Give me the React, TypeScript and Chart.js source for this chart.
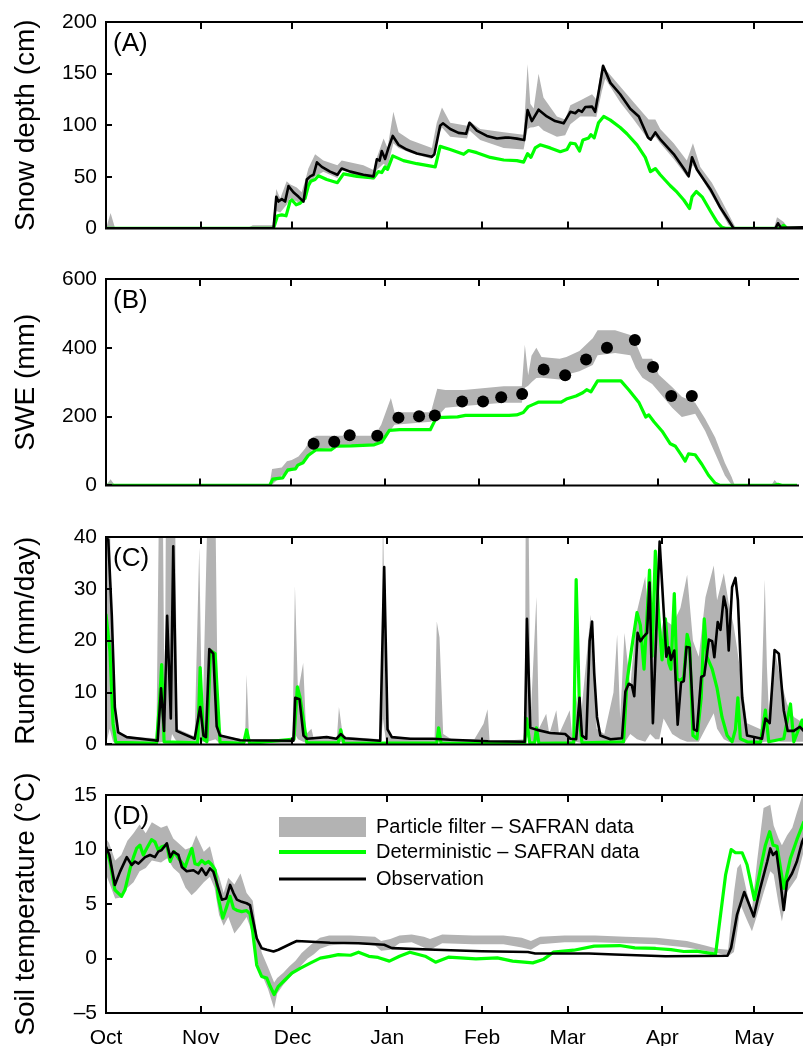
import React, { useEffect, useRef } from "react";
import { Chart, registerables } from "chart.js";

Chart.register(...registerables);

const FONT = "'Liberation Sans', Arial, Helvetica, sans-serif";
const GRAY = "#b3b3b3";
const GREEN = "#00ff00";
const BLACK = "#000000";

// ---- x axis (days since 1 Oct) ----
const monthDays = [0, 31, 61, 92, 123, 151, 182, 212];
const monthLabels = ["Oct", "Nov", "Dec", "Jan", "Feb", "Mar", "Apr", "May"];
const X_MAX = 228;

// ---- y ticks ----
const snowTicks = [0, 50, 100, 150, 200];
const sweTicks = [0, 200, 400, 600];
const runoffTicks = [0, 10, 20, 30, 40];
const soilTicks = [-5, 0, 5, 10, 15];

type Pair = [number, number];
type Band = [number, number, number];

// ---- (A) Snow depth (cm) ----
const snowObs: Pair[] = [[0,0],[54.8,0],[55.7,30.6],[56.4,26],[57.5,28.4],[58.6,26],[59.7,41],[61.3,35],[63,30.6],[64.6,26],[65.7,47.4],[66.8,50.4],[67.9,52],[69,64],[70.6,59.6],[73.3,55],[75.7,52],[77.1,58],[79.9,55],[84.2,52],[87.5,50.4],[88.6,67],[89.5,65.7],[90.2,75],[91.3,67.3],[92.4,78],[93.8,89.6],[95.7,81],[98.4,76.4],[101.7,72.5],[106.6,69.4],[107.4,71.8],[109.3,99.4],[110.2,101.8],[112.6,96.3],[115.3,92.6],[117.8,91.7],[118.9,102.4],[121.3,94.8],[124.6,89.6],[127.9,87.1],[130.6,88],[131.7,88],[134.4,87],[136.8,85.6],[137.9,114.7],[139.3,104],[141.5,115],[144.2,108.5],[146.9,104],[149.7,101.8],[151.9,113],[153.5,111.6],[154.6,114.7],[155.7,113],[156.8,117.7],[159,118],[160,113],[161.2,133],[162.6,157.5],[165,141],[168.2,130],[171.5,116],[174.3,108.5],[177.3,88],[178.2,86],[179.7,93],[181.4,86],[185.7,72],[189,58],[190.6,50.5],[191.7,69],[193.3,57],[197.7,38],[201,20],[203.7,7.6],[205.3,0],[219,0],[219.8,5],[220.8,0.5],[228,1]];
const snowDet: Pair[] = [[0,0],[54.8,0],[56.1,12.2],[57.5,13.1],[58.9,12.2],[60.2,26],[60.8,27.5],[62.2,22.9],[63.5,24.4],[65.1,29],[66.2,41.3],[67,45.8],[68.4,47.4],[69.5,51],[72.2,47.4],[75.7,44.3],[77.7,52.9],[82.1,50.4],[87.5,48.9],[89.1,55],[90.2,54.1],[91.3,59.6],[92.1,57.2],[93.8,70.3],[97.3,65.7],[101.7,62.7],[107.7,59.6],[109.3,79.5],[112.6,76.4],[117,71.8],[118.6,75.5],[121.3,73.4],[125.7,68.8],[130.1,66.3],[134.4,65.7],[136.6,64.2],[137.9,72.5],[139,68.8],[140.4,78],[142,81],[145.3,78],[148.6,74.3],[150.8,76.4],[151.9,82.6],[153.5,82],[154.9,75],[156,85.6],[157.9,87.7],[158.6,90.8],[159.7,87.7],[161.1,102.4],[162.8,108.5],[165,104.9],[168.2,97.8],[170.4,91.7],[173.7,81],[176.4,68.8],[178.1,55],[179.7,58],[181.3,52],[184.6,41.3],[186.8,35.1],[189,27.5],[190.9,19.3],[191.7,30.6],[193.1,35.8],[195,30.6],[197.7,16.8],[199.9,6.1],[201.5,1],[202.6,0],[220.5,0],[221.7,3],[222.8,0],[228,0]];
const snowBand: Band[] = [[0,0,0],[1.5,0,15],[3,0,0],[46,0,0],[48,0,3],[54.5,0,3],[55.7,16.8,38.2],[57,15.3,29],[59.1,23,45.8],[60.2,29,42.8],[62.4,26,39.7],[64,23.5,35],[65.1,32,45.8],[66.2,41.3,58],[68.4,50.4,71.8],[71.1,55,65.7],[75.7,48.9,61.1],[77.1,56.5,65.7],[84.2,48.9,61.1],[87.5,47.4,56.5],[88.6,56.5,68.8],[90.8,62.7,87.1],[92.1,59.6,78],[94,82.5,113.1],[95.7,78,93.2],[99.5,73.4,85.6],[106.6,67.3,78],[108.2,87.1,102.4],[109.9,97.8,117.1],[112.6,88.7,102.4],[118.1,87.1,99.4],[118.9,94.8,103.9],[122.4,85.6,96.3],[130.1,78,93.2],[136.6,76.4,90.8],[137.9,96.3,159],[138.8,97.8,120.8],[139.9,98,116.2],[141.5,99.4,149.8],[143.1,94.8,126.9],[147.5,88.7,108.5],[150.2,90.2,105.5],[151.9,101,119.3],[155.1,108.5,123.9],[159,108.5,130],[160.4,108,125],[162.2,133,157.5],[163.3,145,154.4],[168.2,122.3,137.6],[172.6,105.5,122.3],[177.5,85.6,105.5],[179.7,88.7,105.5],[181.3,82.5,96.3],[185.7,67.3,82.5],[190,50.4,65.7],[192,61.1,82.5],[194.4,50.4,59.6],[198.2,32,44.3],[201,16.8,29],[203.7,3,13.8],[205.9,0,1],[207,0,0],[218.5,0,0],[219.5,0,10.7],[221.7,0,6.1],[222.8,0,1.5],[228,0,1]];

// ---- (B) SWE (mm) ----
const sweObsDays = [68.5,75.3,80.4,89.5,96.5,103.3,108.5,117.5,124.4,130.4,137.3,144.4,151.5,158.4,165.3,174.5,180.5,186.5,193.3];
const sweObsValues = [121,127,146,144,197,201,203,244,244,256,266,337,320,366,400,423,344,260,260];
const sweDet: Pair[] = [[0,0],[54,0],[55,18],[58.3,22],[60,45],[62.5,48],[63.3,59],[65,66],[66.7,87],[69.2,103],[74.2,103],[75.9,114],[81,115],[88.5,118],[91,126],[93.5,160],[96.9,162],[107,162],[109,197],[116,199],[118.6,203.5],[133,203.5],[135.5,205],[137.7,212],[139.3,229],[141,235.5],[142.6,241.8],[150.2,241.8],[151.9,251],[155.1,260],[157.3,269.3],[158.6,278.4],[160,272],[162.2,304],[169.9,304],[172.6,276.7],[175.9,240],[178.1,198.7],[179.1,205],[180.8,185],[183.5,157.6],[186.2,121],[187.9,113.7],[189.8,89],[191.1,70.6],[192.2,91.7],[194.4,89],[196.6,61.5],[198.8,29.4],[201,6.5],[202.6,0],[220.5,0],[221.7,3],[223,0],[228,0]];
const sweBand: Band[] = [[0,0,0],[1.5,0,18],[3,0,0],[46,0,0],[48,0,4],[54,0,4],[54.8,2,47.6],[58,29,52],[59.7,38,70],[61.3,42,74],[63.5,57,84],[65.7,75,107],[67.9,102,139],[69.5,104,144],[75.5,111,144],[88.6,120,144],[90.8,130,176],[94,162,254],[95.2,176,213],[107.2,185,213],[109.3,199,281],[112,226,277],[118.1,231,277],[131.2,240,288],[137.2,240,288],[138.2,284,409],[139.3,290,320],[140.4,300,377],[142,312,400],[143.7,313,373],[149.7,308,368],[151.9,322,373],[156.2,332,391],[160.6,350,428],[162.2,378,451],[168,385,451],[173,378,437],[174.8,341,414],[177,313,368],[180.2,295,368],[182.4,272,322],[186.8,226,286],[190,199,258],[194.4,208,240],[197.7,158,194],[201,93,139],[204.2,29,66],[206.4,2,25],[207.5,0,0],[219.5,0,0],[220.6,0,16],[222,0,2],[228,0,0]];

// ---- (C) Runoff (mm/day) ----
const runoffObs: Pair[] = [[0,40],[0.75,39.4],[1.9,24.8],[2.9,7.2],[4,2.3],[6.8,1.4],[15.5,0.8],[16.9,0.7],[18,10.8],[19,2.6],[20,24.8],[21.2,5],[22,38.2],[23.1,2.6],[29,1.1],[30.8,7.2],[31.9,1.7],[32.7,1.4],[33.8,18.4],[35.1,17.5],[36.2,3.5],[37.3,1.7],[43.9,0.8],[61.3,0.7],[61.9,9],[63.3,8.7],[64.6,1.7],[65.7,1.1],[72.2,1.4],[75.4,1.1],[76.8,2],[78.3,1.2],[89.7,0.7],[91,34.2],[92.1,2.9],[93.5,1.4],[99.5,1.1],[107,1.1],[112.5,0.9],[125,0.6],[137,0.5],[137.7,24.2],[138.8,3.2],[141,2.8],[145.3,2.2],[150.2,2],[151.9,1.1],[153.8,1],[154.9,9],[155.7,1.7],[157.1,1.1],[158.2,19.9],[159,23.7],[159.7,13.8],[160.6,5.3],[161.7,1.7],[165,1],[168.8,1.2],[169.9,10.2],[171,11.7],[172,11.4],[172.8,9.3],[173.9,21.5],[174.8,19.9],[175.9,20.8],[177,21.5],[177.8,31.2],[178.9,4.1],[181.1,39.1],[182.4,26],[183.3,16.9],[184.1,18.7],[184.8,16.3],[185.9,18.1],[187,3.8],[188.1,11.9],[189,12.2],[189.9,18.8],[190.9,18.7],[192.3,2.9],[193.3,2.6],[194.7,13],[195.7,13.3],[197.2,20.2],[198.3,19.9],[199,16.8],[200.1,23.6],[201,22.1],[202.1,28.5],[203,26],[203.7,18.1],[204.8,30.3],[205.9,32.1],[206.7,27.8],[208.1,9],[209.7,1.7],[214.6,1.1],[215.7,5],[217.1,4.1],[218.7,18.2],[220.1,17.5],[221.7,6.6],[223,2.6],[225,2.6],[227,3.4],[228.2,2.6]];
const runoffDet: Pair[] = [[0,25],[1.3,18],[2.3,4],[3.2,0.4],[16.5,0.2],[17.5,8],[18.2,15.4],[19,0.5],[30,0.3],[30.8,14.8],[31.9,1],[33,0.5],[34.2,18.1],[35.7,17.5],[37.3,0.4],[45,0.2],[46,2.8],[47,0.2],[61.5,1],[62.6,11.1],[63.5,9],[65.7,0.3],[76,0.3],[76.8,2.8],[77.8,0.2],[108.2,0.3],[108.8,3.2],[109.6,0.2],[137,0.2],[137.6,5],[138.6,0.3],[140.2,0.3],[140.8,3.2],[141.6,0.2],[153,0.3],[153.8,31.8],[155,4],[155.7,0.3],[169.3,0.5],[170.4,12],[172,18.7],[173.7,25.4],[174.8,23],[176,14.5],[177.8,33.6],[178.6,17],[179.7,37.3],[180.8,24.8],[181.9,16.3],[183,24.2],[184.1,15.7],[184.8,14.5],[185.9,29.1],[186.8,12.6],[187.9,12.3],[189,13],[190.1,21.2],[190.9,19.3],[192,1.7],[193.3,1.1],[194.7,9],[195.7,24.2],[196.6,16.9],[198.3,14.5],[199.9,10.8],[201.5,5.3],[203.2,1.7],[204.8,0.5],[205.9,2.9],[206.7,9],[207.5,1.1],[209.7,0.5],[214.1,0.4],[215.7,6.6],[216.8,0.5],[221.7,1.1],[223.9,7.8],[225,0.5],[227.7,4.7],[228.2,3]];
const runoffBand: Band[] = [[0,0,45],[1.2,3,45],[2.3,0.5,12],[3.5,0.3,3],[6,0.2,1.5],[16.5,0.2,1.2],[17.3,0.3,45],[18.6,0.5,45],[19.2,0.5,3],[19.6,0.5,45],[21.2,0.5,45],[21.6,2,45],[22.6,1,45],[23.3,0.5,3],[29,0.3,1.5],[30.5,1,38],[31.5,0.5,2],[33.2,0.5,45],[35.8,1,45],[36.6,0.5,5],[38,0.3,1.5],[45.5,0.2,1],[46,0.5,13.5],[46.8,0.2,1],[61,0.2,1],[61.8,2,30.6],[62.8,1,10],[64.5,0.5,15.7],[65.5,0.3,2],[67.2,0.3,3],[68,0.2,1],[75.5,0.2,1],[76.2,0.5,7.2],[77.5,0.3,1.5],[90,0.2,1],[90.6,5,45],[91.6,0.5,5],[93,0.3,1.5],[107.5,0.2,1],[108.2,0.5,23.7],[109.1,0.5,20.6],[110.3,0.2,2],[113,0.2,1],[120.5,0.2,1],[123.5,0.3,4],[124.8,0.3,6.8],[125.5,0.2,0.5],[137,0.2,1],[137.3,2,45],[138.2,1,45],[138.9,0.5,5],[140.8,0.5,28.5],[141.6,0.5,3],[144,0.3,5.9],[145,0.3,2],[147.3,0.3,6.6],[148.2,0.2,2],[151.7,0.2,6.6],[152.6,0.2,1],[153.7,0.5,10],[155,0.3,3],[158.5,0.5,25],[160.5,0.3,3],[163,0.2,2],[166,0.3,10],[167.2,0.3,21.2],[168.2,0.3,5],[169.6,0.3,21.5],[171.5,2,11],[173.7,1,25.7],[176.4,0.5,32.4],[178,2,20],[179.7,1,32.7],[181,1,20],[182.4,5,24.2],[185.2,2,23],[187.9,1,26.3],[190.1,0.5,32.7],[192,0.5,20],[193.9,0.5,16.9],[196.1,3,28.4],[198.8,6,34.5],[199.9,3,27.8],[202.1,1,33],[203.7,0.5,27.2],[205.3,0.3,23],[206.4,0.3,18.7],[208.1,0.3,11.4],[209.7,0.3,4.1],[214.1,0.3,2.9],[215.5,0.5,31.8],[216.2,0.5,15],[216.8,0.5,6.6],[219,1,17.5],[220.6,0.5,12.6],[222.8,0.5,7.8],[225,0.5,5.3],[228.2,0.5,4.1]];

// ---- (D) Soil temperature (°C) ----
const soilObs: Pair[] = [[0,10.26],[1.1,9.5],[2.9,6.75],[4.6,7.97],[6.8,9.3],[8.4,8.58],[9.5,8.9],[10.6,8.7],[11.7,9],[12.8,9.3],[14.4,9.5],[16,9.3],[17.1,9.8],[18.2,9.95],[19.9,10.56],[21,9.3],[22,9.8],[23.7,9.5],[24.8,8.4],[26.4,8],[28.6,8.1],[30.2,7.8],[31.3,8.27],[32.7,7.66],[34,8.27],[35.1,7.97],[36.8,6.4],[37.9,5.4],[39.3,5.5],[40.6,6.75],[41.7,6],[42.8,5.4],[44.4,5.2],[46,5.07],[47.1,4.9],[48.2,3.4],[49.3,1.86],[50.9,0.95],[52.6,0.8],[54.8,0.64],[56.4,0.8],[58.6,1.1],[60.8,1.4],[62.4,1.6],[65.7,1.56],[73.3,1.45],[82.6,1.4],[91,1.26],[93.5,0.95],[107.8,0.8],[122.8,0.67],[138,0.6],[140.4,0.46],[158,0.46],[166.4,0.37],[183,0.2],[203.3,0.25],[204.5,1],[206.4,4],[208.8,6.1],[211.9,3.86],[214,6.44],[216.3,8.9],[217.3,10.1],[218.2,9.5],[219.3,9.8],[220.6,7.05],[221.7,4.45],[222.8,7.05],[224.4,7.8],[226,8.9],[227.7,10.7],[228.2,11]];
const soilDet: Pair[] = [[0,10.1],[1.3,8.9],[2.9,6.3],[4,6],[5.1,5.7],[6.2,6.3],[7.9,8.27],[9,9.3],[10,10.1],[11.1,10.4],[12.2,9.5],[13.3,10.1],[14.9,10.9],[16,10.7],[17.1,9.95],[18.2,10.26],[19.9,10.4],[21,8.9],[22.3,9.8],[23.7,9.2],[25.9,8.4],[27,9.3],[28.1,10.1],[29.1,8.7],[30.2,8.6],[31.3,9],[32.4,8.7],[33.5,8.9],[34.6,8.6],[35.7,8.1],[36.8,5.5],[38.2,3.7],[39.3,4.6],[40.6,5.7],[41.7,4.6],[43,4.4],[44.4,4.3],[46,4.4],[47.1,4.1],[48,2.4],[49.3,-0.6],[50.9,-1.65],[52.6,-1.8],[53.7,-2.55],[55,-3.3],[56.4,-2.55],[58.6,-1.95],[60.8,-1.34],[63.5,-0.9],[66.8,-0.43],[70.1,0.03],[73.3,0.2],[76,0.35],[80,0.3],[82.6,0.58],[86,0.2],[89,0.1],[92.7,-0.24],[96,0.2],[99.4,0.58],[104.4,0.21],[107.8,-0.34],[112,0.12],[116,0.06],[121,-0.03],[128,0.06],[133,-0.24],[139.6,-0.4],[143,-0.1],[146.3,0.58],[153,0.76],[159.7,1.13],[168,1.19],[173,0.98],[179.8,0.92],[184.8,0.82],[189,0.64],[193.2,0.67],[199.4,0.4],[202.7,7.7],[204.5,10],[205.9,9.7],[208.1,9.7],[209.7,8.6],[212.1,5.4],[214,8.1],[215.7,10.4],[217.1,11.63],[218.2,10.4],[219.5,10.3],[221.7,6.44],[223.9,9.2],[226,10.9],[228.2,12.5]];
const soilBand: Band[] = [[0,7.7,11],[1,7,10.6],[3,5.5,9],[5,5.6,9.5],[7,6.5,10.8],[9,7,11.5],[11,8,12.3],[13,8.3,11.5],[15,9,12.5],[18,8.8,12],[20,9.2,12.2],[22,8.3,11],[24,7.8,10.5],[26,6.5,10],[28,5.8,10.2],[29.5,6.2,11.3],[32,7,9.8],[34,7.5,10.3],[35.5,6.5,8.6],[37,4,7.5],[38.5,3,6],[40,3.8,7.4],[42,2.3,6.8],[44,3,7.8],[46,3.8,6],[48,2.2,5.3],[49.5,-0.5,2],[51,-1.5,0.5],[53,-2.8,-0.8],[55,-4.6,-2.2],[56,-3.2,-1.8],[58,-2.4,-1.3],[60,-1.8,-0.7],[62,-1.2,-0.2],[64,-0.6,0.5],[66,0,1],[68,0.4,1.5],[70,0.9,1.9],[73,1.2,2.1],[80,1.4,2.1],[88,1.2,2],[90,0.7,1.6],[93,0.8,1.8],[96,1.4,2.1],[100,1.5,2.2],[104,1,2],[106,0.8,1.8],[110,1.4,2.2],[120,1.3,2.1],[130,1.3,2.1],[136,1,1.9],[139,0.8,1.6],[142,1.3,2],[150,1.5,2.1],[160,1.5,2.1],[170,1.4,2],[180,1.3,1.9],[190,1,1.6],[196,0.7,1.2],[200,0.5,0.9],[203.5,0.2,0.8],[205.4,0.6,6],[206.5,2.5,8.3],[207.6,4.9,8.7],[209.7,3.5,6],[211.3,2.5,4.5],[213,4,9],[215.1,6,13.8],[217.3,8,14.1],[218.4,7.7,12.2],[220,5,11],[221.1,3.4,10.4],[222.8,6.1,11.3],[224.5,6.8,12],[226,7.4,13.4],[228.2,9.8,15.3]];

// ---------------------------------------------------------------

const pts = (a: Pair[]) => a.map(([x, y]) => ({ x, y }));

function bandSets(b: Band[]) {
  return [
    {
      data: b.map(([x, lo]) => ({ x, y: lo })),
      borderColor: "rgba(0,0,0,0)",
      borderWidth: 1,
      pointRadius: 0,
      fill: false,
      order: 10,
    },
    {
      data: b.map(([x, , hi]) => ({ x, y: hi })),
      borderColor: "rgba(0,0,0,0)",
      borderWidth: 1,
      pointRadius: 0,
      fill: "-1",
      backgroundColor: GRAY,
      order: 9,
    },
  ];
}

function lineSet(a: Pair[], color: string, width: number, order: number) {
  return {
    data: pts(a),
    borderColor: color,
    borderWidth: width,
    pointRadius: 0,
    fill: false,
    order,
    borderJoinStyle: "round" as const,
    borderCapStyle: "round" as const,
  };
}

interface PanelSpec {
  label: string;
  title: string;
  yTicks: number[];
  top: number; // canvas top (page px)
  height: number; // canvas height
  padTop: number;
  xHeight: number;
  showX: boolean;
  datasets: any[];
  legend?: boolean;
}

function framePlugin(spec: PanelSpec) {
  return {
    id: "frame_" + spec.label,
    afterDatasetsDraw(chart: any) {
      const { ctx, chartArea, scales } = chart;
      const { left, right, top, bottom } = chartArea;
      const x = scales.x;
      const y = scales.y;
      ctx.save();
      ctx.strokeStyle = "#000";
      ctx.lineWidth = 2;
      ctx.lineCap = "butt";
      ctx.beginPath();
      ctx.moveTo(right + 2, top);
      ctx.lineTo(left, top);
      ctx.lineTo(left, bottom);
      ctx.lineTo(right + 2, bottom);
      ctx.stroke();
      ctx.beginPath();
      for (const d of monthDays) {
        if (d === 0) continue;
        const px = Math.round(x.getPixelForValue(d));
        ctx.moveTo(px, bottom);
        ctx.lineTo(px, bottom - 7);
        ctx.moveTo(px, top);
        ctx.lineTo(px, top + 7);
      }
      for (const v of spec.yTicks) {
        const py = Math.round(y.getPixelForValue(v));
        ctx.moveTo(left, py);
        ctx.lineTo(left + 6, py);
      }
      ctx.stroke();

      ctx.fillStyle = "#000";
      ctx.font = `26px ${FONT}`;
      ctx.textBaseline = "top";
      ctx.textAlign = "left";
      ctx.fillText(spec.label, left + 7, top + 9);

      if (spec.legend) {
        const lx0 = 279;
        const lx1 = 366;
        ctx.fillStyle = GRAY;
        ctx.fillRect(lx0, top + 22, lx1 - lx0, 20);
        ctx.strokeStyle = GREEN;
        ctx.lineWidth = 4;
        ctx.beginPath();
        ctx.moveTo(lx0, top + 57);
        ctx.lineTo(lx1, top + 57);
        ctx.stroke();
        ctx.strokeStyle = BLACK;
        ctx.lineWidth = 3;
        ctx.beginPath();
        ctx.moveTo(lx0, top + 84);
        ctx.lineTo(lx1, top + 84);
        ctx.stroke();
        ctx.fillStyle = "#000";
        ctx.font = `20px ${FONT}`;
        ctx.textBaseline = "middle";
        ctx.fillText("Particle filter \u2013 SAFRAN data", 376, top + 32);
        ctx.fillText("Deterministic \u2013 SAFRAN data", 376, top + 57);
        ctx.fillText("Observation", 376, top + 84);
      }
      ctx.restore();
    },
  };
}

function Panel({ spec }: { spec: PanelSpec }) {
  const ref = useRef<HTMLCanvasElement | null>(null);
  useEffect(() => {
    if (!ref.current) return;
    const yMin = spec.yTicks[0];
    const yMax = spec.yTicks[spec.yTicks.length - 1];
    const chart = new Chart(ref.current, {
      type: "line",
      data: { datasets: spec.datasets },
      options: {
        animation: false,
        responsive: false,
        maintainAspectRatio: false,
        devicePixelRatio: 1,
        layout: { padding: { top: spec.padTop, left: 0, right: 0, bottom: 0 } },
        plugins: {
          legend: { display: false },
          tooltip: { enabled: false },
        },
        elements: { line: { tension: 0 }, point: { radius: 0 } },
        scales: {
          x: {
            type: "linear",
            min: 0,
            max: X_MAX,
            afterBuildTicks: (s: any) => {
              s.ticks = monthDays.map((v) => ({ value: v }));
            },
            afterFit: (s: any) => {
              s.height = spec.xHeight;
            },
            grid: { display: false, drawTicks: false },
            border: { display: false },
            ticks: {
              display: spec.showX,
              autoSkip: false,
              maxRotation: 0,
              padding: 13,
              color: "#000",
              font: { family: FONT, size: 21 },
              callback: (v: any) => {
                const i = monthDays.indexOf(Number(v));
                return i >= 0 ? monthLabels[i] : "";
              },
            },
          },
          y: {
            type: "linear",
            min: yMin,
            max: yMax,
            afterBuildTicks: (s: any) => {
              s.ticks = spec.yTicks.map((v) => ({ value: v }));
            },
            afterFit: (s: any) => {
              s.width = 106;
            },
            grid: { display: false, drawTicks: false },
            border: { display: false },
            ticks: {
              padding: 9,
              color: "#000",
              font: { family: FONT, size: 21 },
              callback: (v: any) => String(v).replace("-", "\u2013"),
            },
            title: {
              display: true,
              text: spec.title,
              color: "#000",
              font: { family: FONT, size: 28 },
              padding: { top: 9, bottom: 0 },
            },
          },
        },
      } as any,
      plugins: [framePlugin(spec)],
    });
    return () => chart.destroy();
  }, [spec]);
  return (
    <canvas
      ref={ref}
      width={803}
      height={spec.height}
      style={{ position: "absolute", left: 0, top: spec.top, width: 803, height: spec.height }}
    />
  );
}

const panels: PanelSpec[] = [
  {
    label: "(A)",
    title: "Snow depth (cm)",
    yTicks: snowTicks,
    top: 0,
    height: 250,
    padTop: 22,
    xHeight: 10,
    showX: false,
    datasets: [...bandSets(snowBand), lineSet(snowDet, GREEN, 3.2, 5), lineSet(snowObs, BLACK, 2.6, 1)],
  },
  {
    label: "(B)",
    title: "SWE (mm)",
    yTicks: sweTicks,
    top: 255,
    height: 252,
    padTop: 24,
    xHeight: 10,
    showX: false,
    datasets: [
      ...bandSets(sweBand),
      lineSet(sweDet, GREEN, 3.2, 5),
      {
        type: "scatter",
        data: sweObsDays.map((d, i) => ({ x: d, y: sweObsValues[i] })),
        showLine: false,
        pointRadius: 6,
        pointBackgroundColor: BLACK,
        pointBorderColor: BLACK,
        pointBorderWidth: 0,
        order: 0,
      },
    ],
  },
  {
    label: "(C)",
    title: "Runoff (mm/day)",
    yTicks: runoffTicks,
    top: 512,
    height: 254,
    padTop: 25,
    xHeight: 10,
    showX: false,
    datasets: [...bandSets(runoffBand), lineSet(runoffDet, GREEN, 3.2, 5), lineSet(runoffObs, BLACK, 2.6, 1)],
  },
  {
    label: "(D)",
    title: "Soil temperature (\u00B0C)",
    yTicks: soilTicks,
    top: 760,
    height: 286,
    padTop: 35,
    xHeight: 33,
    showX: true,
    legend: true,
    datasets: [...bandSets(soilBand), lineSet(soilDet, GREEN, 3.2, 5), lineSet(soilObs, BLACK, 2.6, 1)],
  },
];

export default function App() {
  useEffect(() => {
    document.body.style.margin = "0";
    document.body.style.overflow = "hidden";
  }, []);
  return (
    <div style={{ position: "absolute", left: 0, top: 0, width: 803, height: 1046, background: "#fff", overflow: "hidden" }}>
      {panels.map((p) => (
        <Panel key={p.label} spec={p} />
      ))}
    </div>
  );
}
